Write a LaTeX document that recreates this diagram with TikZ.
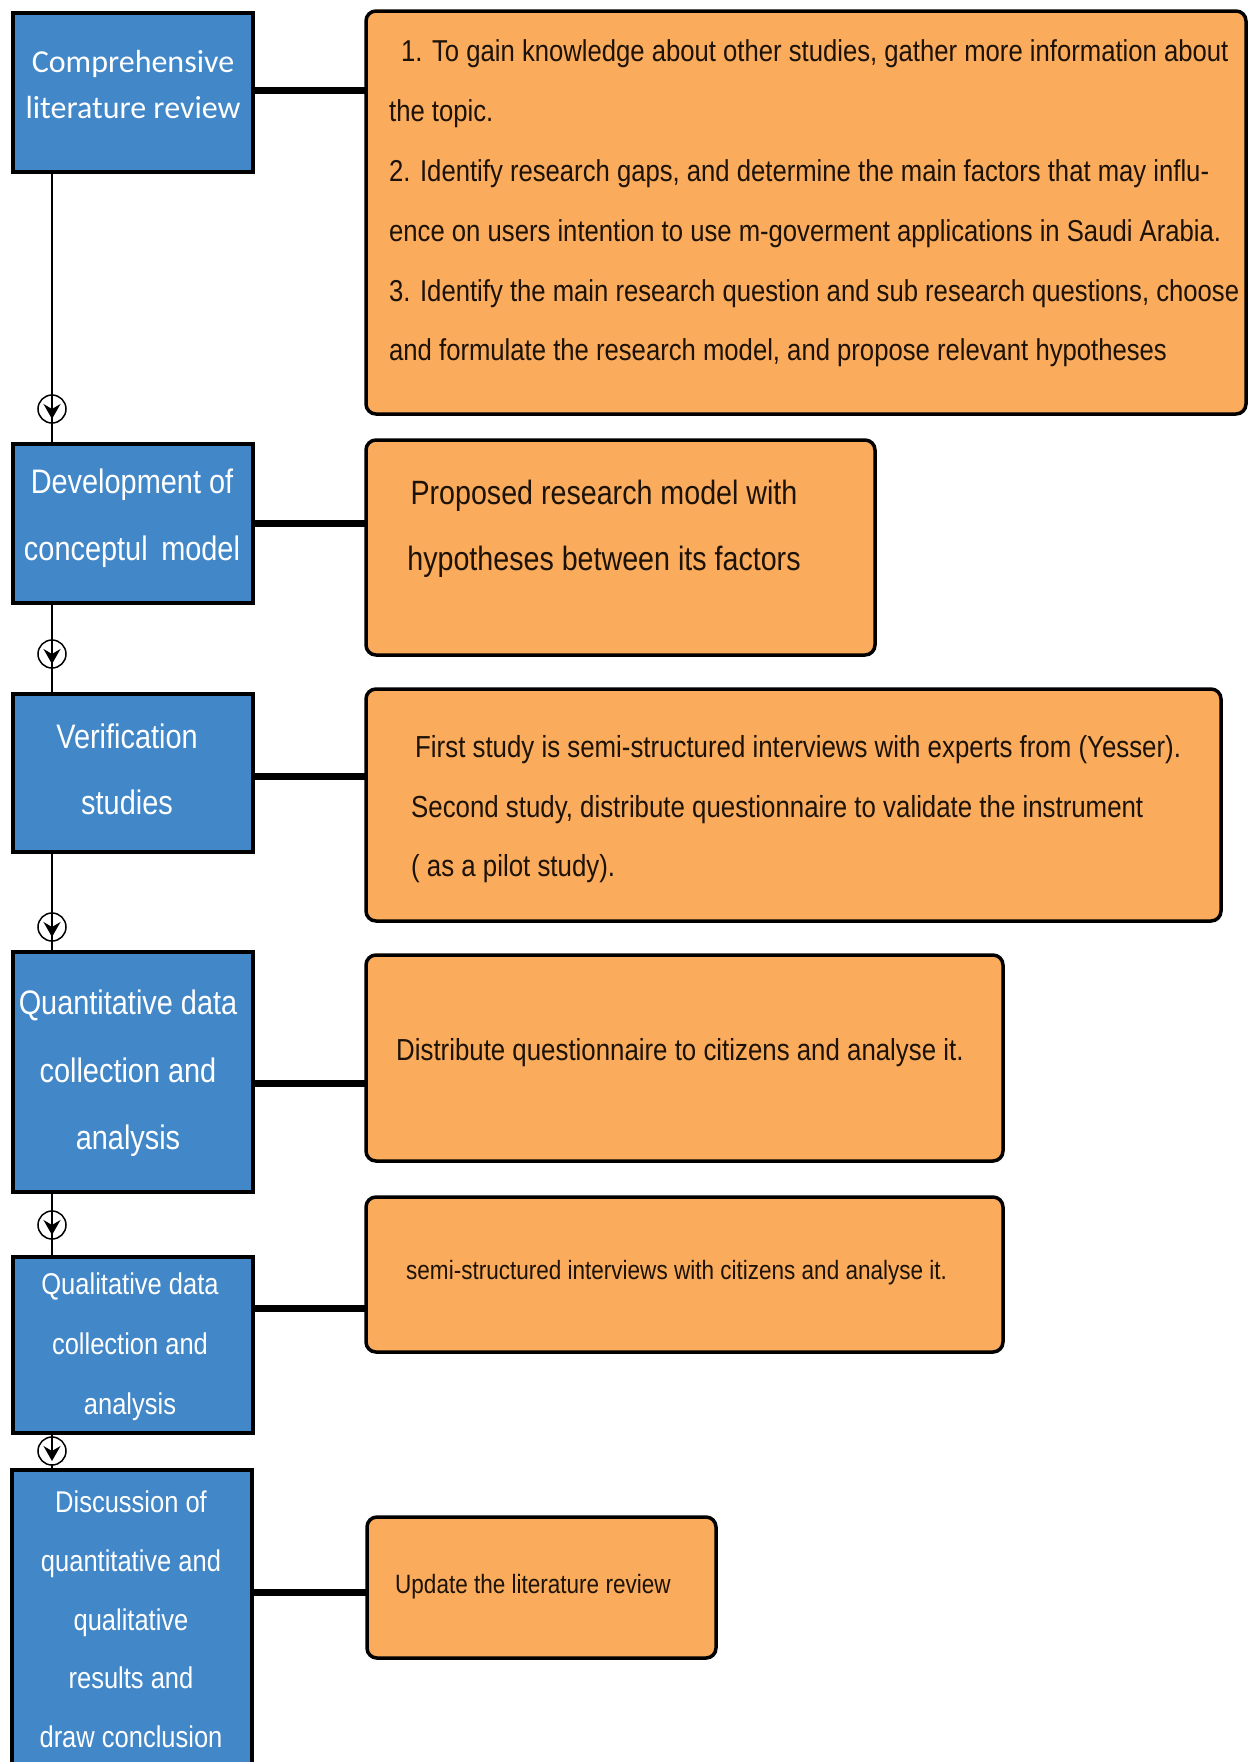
\documentclass[tikz,border=0pt]{standalone}
\usepackage{fontspec}
\setmainfont{Liberation Sans}[FakeStretch=0.85]
\newfontfamily\humanist{Carlito}
\usetikzlibrary{arrows.meta,calc}
\definecolor{stepblue}{RGB}{66,135,200}
\definecolor{noteorange}{RGB}{250,171,91}
\definecolor{noteink}{RGB}{28,18,8}
\newcommand{\fsz}[2]{\fontsize{#1}{#2}\selectfont}

\begin{document}
\begin{tikzpicture}[x=1pt,y=-1pt,
  stagebox/.style={draw=black,line width=4pt,fill=stepblue,rectangle,inner sep=0pt,outer sep=0pt,minimum width=240pt},
  notebox/.style={draw=black,line width=3.5pt,fill=noteorange,rounded corners=10pt,rectangle,inner sep=0pt,outer sep=0pt},
  stagetext/.style={text=white,align=center,inner sep=0pt},
  notetext/.style={text=noteink,inner sep=0pt},
  link/.style={line width=7pt},
  spineline/.style={line width=1.4pt},
  waypoint/.style={circle,draw,line width=1.5pt,minimum size=28pt,inner sep=0pt},
  pointer/.style={line width=1.4pt,-{Stealth[length=15pt,width=17pt,inset=5pt]}}
]
\fill[white] (0,0) rectangle (1252,1762);
\useasboundingbox (0,0) rectangle (1252,1762);
\clip (0,0) rectangle (1252,1762);

% ---- stages (left column) ----
\node[stagebox,minimum height=159pt] (b1) at (133,92.5) {};
\node[stagebox,minimum height=159pt] (b2) at (133,523.5) {};
\node[stagebox,minimum height=158pt] (b3) at (133,773) {};
\node[stagebox,minimum height=240pt] (b4) at (133,1072) {};
\node[stagebox,minimum height=176pt] (b5) at (133,1345) {};
\node[stagebox,minimum height=330pt] (b6) at (132,1635) {};

\node[stagetext,font=\humanist\fsz{32}{46}] (t1) at (133,85) {Comprehensive\\literature review};
\node[stagetext,font=\fsz{34}{67}] (t2) at (132,518.5) {Development of\\conceptul\hspace{0.4em}model};
\node[stagetext,font=\fsz{34}{66}] (t3) at (127,769) {Verification\\studies};
\node[stagetext,font=\fsz{34}{67.5}] (t4) at (128,1073.5) {Quantitative data\\collection and\\analysis};
\node[stagetext,font=\fsz{30}{60}] (t5) at (130,1347) {Qualitative data\\collection and\\analysis};
\node[stagetext,font=\fsz{30}{58.75}] (t6) at (131,1619.5) {Discussion of\\quantitative and\\qualitative\\results and\\draw conclusion};

% ---- outcomes (right column) ----
\node[notebox,minimum width=880pt,minimum height=403pt] (o1) at (806,212.5) {};
\node[notebox,minimum width=509pt,minimum height=215pt] (o2) at (620.5,547.5) {};
\node[notebox,minimum width=855pt,minimum height=232pt] (o3) at (793.5,805) {};
\node[notebox,minimum width=637pt,minimum height=206pt] (o4) at (684.5,1058) {};
\node[notebox,minimum width=637pt,minimum height=155pt] (o5) at (684.5,1274.5) {};
\node[notebox,minimum width=349pt,minimum height=141pt] (o6) at (541.5,1587.5) {};

\node[notetext,anchor=west,align=left,font=\fsz{30.2}{59.8}] (n1) at (389,203.5)
  {\hspace*{12pt}1. To gain knowledge about other studies, gather more information about\\
   the topic.\\
   2. Identify research gaps, and determine the main factors that may influ-\\
   ence on users intention to use m-goverment applications in Saudi Arabia.\\
   3. Identify the main research question and sub research questions, choose\\
   and formulate the research model, and propose relevant hypotheses};
\node[notetext,align=center,font=\fsz{33.7}{66}] (n2) at (604,529)
  {Proposed research model with\\hypotheses between its factors};
\node[notetext,anchor=west,align=left,font=\fsz{30.4}{59.5}] (n3) at (411,809.5)
  {\hspace*{4pt}First study is semi-structured interviews with experts from (Yesser).\\
   Second study, distribute questionnaire to validate the instrument\\
   ( as a pilot study).};
\node[notetext,anchor=west,font=\fsz{30.4}{36}] (n4) at (396,1053)
  {Distribute questionnaire to citizens and analyse it.};
\node[notetext,anchor=west,font=\fsz{26.5}{32}] (n5) at (406,1273)
  {semi-structured interviews with citizens and analyse it.};
\node[notetext,anchor=west,font=\fsz{26.5}{32}] (n6) at (395,1587)
  {Update the literature review};

% ---- stage-to-outcome links ----
\coordinate (l1) at (0,90);
\coordinate (l2) at (0,523);
\coordinate (l3) at (0,776);
\coordinate (l4) at (0,1083);
\coordinate (l5) at (0,1308);
\coordinate (l6) at (0,1592);
\draw[link] (b1.east |- l1) -- (o1.west |- l1);
\draw[link] (b2.east |- l2) -- (o2.west |- l2);
\draw[link] (b3.east |- l3) -- (o3.west |- l3);
\draw[link] (b4.east |- l4) -- (o4.west |- l4);
\draw[link] (b5.east |- l5) -- (o5.west |- l5);
\draw[link] (b6.east |- l6) -- (o6.west |- l6);

% ---- spine with flow markers ----
\coordinate (spine) at (52,0);
\draw[spineline] (b1.south -| spine) -- (b2.north -| spine);
\draw[spineline] (b2.south -| spine) -- (b3.north -| spine);
\draw[spineline] (b3.south -| spine) -- (b4.north -| spine);
\draw[spineline] (b4.south -| spine) -- (b5.north -| spine);
\draw[spineline] (b5.south -| spine) -- (b6.north -| spine);

\node[waypoint] (c1) at (52,409) {};
\node[waypoint] (c2) at (52,654) {};
\node[waypoint] (c3) at (52,927) {};
\node[waypoint] (c4) at (52,1225) {};
\node[waypoint,fill=white] (c5) at (52,1451) {};
\foreach \c in {c1,c2,c3,c4,c5}
  \draw[pointer] (\c.north) -- ($(\c.center)+(0,10)$);
\end{tikzpicture}
\end{document}
